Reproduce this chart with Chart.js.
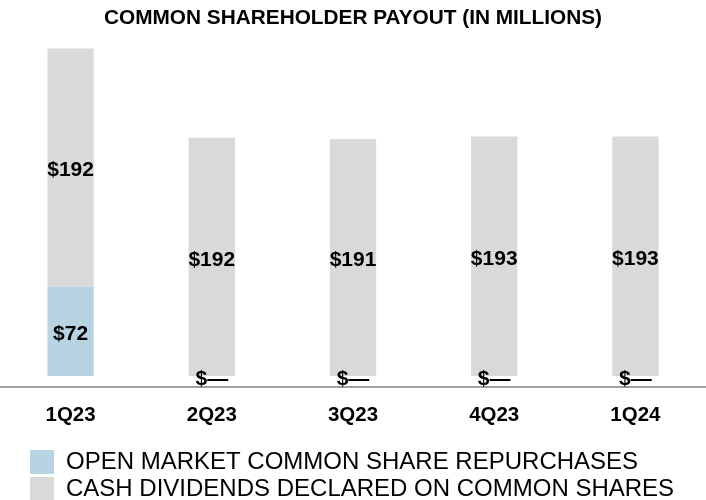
<!DOCTYPE html>
<html>
<head>
<meta charset="utf-8">
<script src="https://cdn.jsdelivr.net/npm/chart.js@4.4.1/dist/chart.umd.min.js"></script>
<style>
  html, body { margin: 0; padding: 0; background: #ffffff; }
  #wrap { width: 706px; height: 500px; }
</style>
</head>
<body>
<div id="wrap"><canvas id="c" width="706" height="500"></canvas></div>
<script>
const categories = ['1Q23', '2Q23', '3Q23', '4Q23', '1Q24'];
const repurchases = [72, 0, 0, 0, 0];
const dividends = [192, 192, 191, 193, 193];
const seriesNames = ['OPEN MARKET COMMON SHARE REPURCHASES', 'CASH DIVIDENDS DECLARED ON COMMON SHARES'];
const chartTitle = 'COMMON SHAREHOLDER PAYOUT (IN MILLIONS)';

const FONT = "'Liberation Sans', Arial, Helvetica, sans-serif";

const valueLabels = {
  id: 'valueLabels',
  afterDatasetsDraw(chart) {
    const ctx = chart.ctx;
    ctx.save();
    ctx.font = 'bold 21px ' + FONT;
    ctx.fillStyle = '#000000';
    ctx.textAlign = 'center';
    ctx.textBaseline = 'middle';
    chart.data.datasets.forEach((ds, di) => {
      const meta = chart.getDatasetMeta(di);
      meta.data.forEach((bar, i) => {
        const v = ds.data[i];
        const txt = v === 0 ? '$\u2014' : '$' + v;
        const cy = (bar.y + bar.base) / 2 + 3;
        ctx.fillText(txt, bar.x, cy);
      });
    });
    ctx.restore();
  }
};

const legendShift = {
  id: 'legendShift',
  afterLayout(chart) {
    const lg = chart.legend;
    if (lg) {
      lg.left += 27; lg.right += 27;
      lg.top += 11; lg.bottom += 11;
    }
  }
};

new Chart(document.getElementById('c'), {
  type: 'bar',
  data: {
    labels: categories,
    datasets: [
      { label: seriesNames[0], data: repurchases, backgroundColor: '#B8D3E1', borderWidth: 0,
        categoryPercentage: 1, barPercentage: 0.328 },
      { label: seriesNames[1], data: dividends, backgroundColor: '#D9D9D9', borderWidth: 0,
        categoryPercentage: 1, barPercentage: 0.328 }
    ]
  },
  options: {
    responsive: false,
    animation: false,
    layout: { padding: 0 },
    plugins: {
      title: {
        display: true,
        text: chartTitle,
        color: '#000000',
        font: { family: FONT, size: 20.8, weight: 'bold', lineHeight: 1.2 },
        padding: { top: 6, bottom: 10 }
      },
      legend: {
        display: true,
        position: 'bottom',
        align: 'start',
        labels: {
          color: '#000000',
          font: { family: FONT, size: 24 },
          boxWidth: 24,
          boxHeight: 24,
          padding: 3
        }
      },
      tooltip: { enabled: false }
    },
    scales: {
      x: {
        stacked: true,
        grid: { display: false, drawTicks: false },
        border: { display: true, color: '#A0A0A0', width: 2 },
        ticks: {
          color: '#000000',
          font: { family: FONT, size: 20.5, weight: 'bold', lineHeight: 1.2 },
          padding: 16,
          maxRotation: 0
        },
        afterFit(scale) { scale.height = 49; }
      },
      y: {
        stacked: true,
        display: false,
        min: -8.86,
        max: 270
      }
    }
  },
  plugins: [valueLabels, legendShift]
});
</script>
</body>
</html>
